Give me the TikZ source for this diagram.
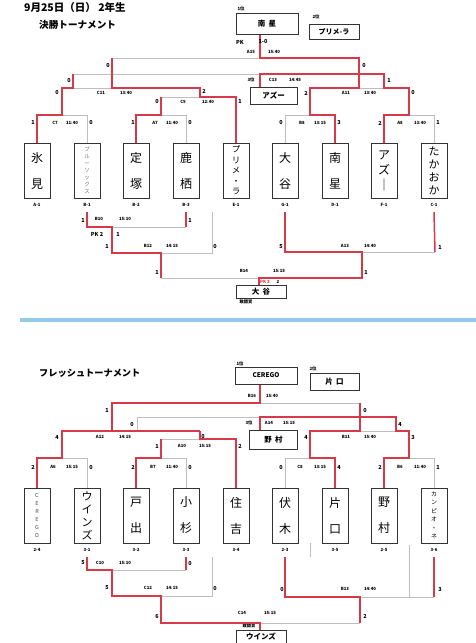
\documentclass[tikz,border=0pt]{standalone}
\usepackage{fontspec}
\setmainfont{Noto Sans CJK JP}
\usetikzlibrary{positioning}
\definecolor{winred}{RGB}{214,58,72}
\definecolor{losegray}{RGB}{190,190,190}
\definecolor{barblue}{RGB}{150,200,238}

\begin{document}
\begin{tikzpicture}[x=1pt, y=-1pt, font=\small,
    team/.style={draw=black!80, line width=1pt, fill=white, minimum width=26pt, minimum height=55pt, inner sep=0pt, align=center},
    two/.style={font=\fontsize{12}{26}\selectfont},
    rankbox/.style={draw=black!80, line width=1pt, fill=white, inner sep=0pt, font=\fontsize{7.5}{8}\selectfont\bfseries},
    title/.style={anchor=west, inner sep=0pt, font=\bfseries},
    win/.style={winred, line width=1.5pt},
    lose/.style={losegray, line width=0.8pt},
    score/.style={inner sep=0pt, font=\fontsize{5.5}{6}\selectfont\bfseries},
    info/.style={inner sep=0pt, font=\fontsize{4.3}{5}\selectfont\bfseries}]
    \useasboundingbox (0,0) rectangle (476,643);

    % ---------- 決勝トーナメント ----------
    \node[title, font=\fontsize{10.5}{11}\selectfont\bfseries] (date) at (24,8) {9月25日（日） 2年生};
    \node[title, font=\fontsize{9.6}{10}\selectfont\bfseries] (kessho) at (39,25) {決勝トーナメント};

    \node[info] (r1) at (241,9) {1位};
    \node[rankbox, minimum width=62pt, minimum height=21pt] (first) at (267,23.5) {南\ \ 星};
    \node[info] (r2) at (316,17) {2位};
    \node[rankbox, minimum width=50pt, minimum height=15pt, font=\fontsize{7}{8}\selectfont\bfseries] (second) at (334,31.5) {プリメ-ラ};
    \node[info] (r3) at (251,80) {3位};
    \node[rankbox, minimum width=47pt, minimum height=17pt] (third) at (273.5,96) {アズー};

    \node[team, two] (himi) at (37,170.5) {氷\\見};
    \node[team, font=\fontsize{5.5}{7}\selectfont, text=black!55] (blue) at (87,170.5) {ブ\\ル\\ー\\ソ\\ッ\\ク\\ス};
    \node[team, two] (jotsuka) at (136,170.5) {定\\塚};
    \node[team, two] (kasu) at (186,170.5) {鹿\\栖};
    \node[team, font=\fontsize{8.5}{10.5}\selectfont] (prim) at (236,170.5) {プ\\リ\\メ\\・\\ラ};
    \node[team, two] (otani) at (285,170.5) {大\\谷};
    \node[team, two] (nansei) at (335,170.5) {南\\星};
    \node[team, font=\fontsize{12}{15}\selectfont] (azu) at (384,170.5) {ア\\ズ\\｜};
    \node[team, font=\fontsize{11}{13}\selectfont] (takaoka) at (434,170.5) {た\\か\\お\\か};

    \node[info] (lhimi) at (37,205) {A-1};
    \node[info] (lblue) at (87,205) {B-1};
    \node[info] (ljotsuka) at (136,205) {B-2};
    \node[info] (lkasu) at (186,205) {B-3};
    \node[info] (lprim) at (236,205) {E-1};
    \node[info] (lotani) at (285,205) {G-1};
    \node[info] (lnansei) at (335,205) {D-1};
    \node[info] (lazu) at (384,205) {F-1};
    \node[info] (ltakaoka) at (434,205) {C-1};

    \coordinate (fin) at (260,58);
    \coordinate (thr) at (260,74);
    \coordinate (kfin) at (259,278);

    \draw[lose] (blue.north) |- (62,115);
    \draw[lose] (kasu.north) |- (161,115);
    \draw[lose] (161,97) -- (200,97);
    \draw[lose] (73,88) -- (112,88);
    \draw[lose] (112,58) -- (fin);
    \draw[lose] (73,74) -- (thr);
    \draw[lose] (otani.north) |- (310,115);
    \draw[lose] (takaoka.north) |- (409,115);
    \draw[lose] (359,88) -- (384,88);
    \draw[win] (himi.north) |- (62,115) -- (62,88) -- (73,88) -- (73,74);
    \draw[win] (jotsuka.north) |- (161,115) -- (161,97);
    \draw[win] (prim.north) |- (200,97) -- (200,88) -- (112,88) -- (112,58);
    \draw[win] (nansei.north) |- (310,115) -- (310,88) -- (359,88) -- (359,58) -- (fin) -- (fin |- first.south);
    \draw[win] (azu.north) |- (409,115) -- (409,88) -- (384,88) -- (384,74) -- (thr) -- (thr |- third.north);

    \node[score] (pk) at (240,42) {PK};
    \node[score] (pks) at (263,42) {1-0};
    \node[info] (m15) at (251,52) {A15};
    \node[info] (t15) at (274,52) {15:40};
    \node[score] (f1) at (108,66) {0};
    \node[score] (f2) at (364,66) {0};
    \node[info] (m13) at (273,80) {C13};
    \node[info] (t13) at (295,80) {14:45};
    \node[score] (h1) at (69,81) {0};
    \node[score] (h2) at (389,81) {1};
    \node[score] (s11a) at (57,93) {0};
    \node[info] (m11) at (101,93) {C11};
    \node[info] (t11) at (126,93) {13:40};
    \node[score] (s11b) at (204,91) {2};
    \node[score] (sa11a) at (306,93) {2};
    \node[info] (ma11) at (346,93) {A11};
    \node[info] (ta11) at (370,93) {13:40};
    \node[score] (sa11b) at (413,93) {0};
    \node[score] (s9a) at (157,102) {0};
    \node[info] (m9) at (183,102) {C9};
    \node[info] (t9) at (208,102) {12:40};
    \node[score] (s9b) at (240,102) {1};
    \node[score] (s7a) at (33,123) {1};
    \node[info] (m7) at (55,123) {C7};
    \node[info] (t7) at (72,123) {11:40};
    \node[score] (s7b) at (91,123) {0};
    \node[score] (sa7a) at (133,123) {1};
    \node[info] (ma7) at (155,123) {A7};
    \node[info] (ta7) at (172,123) {11:40};
    \node[score] (sa7b) at (190,123) {0};
    \node[score] (s8a) at (281,123) {0};
    \node[info] (m8) at (302,123) {B8};
    \node[info] (t8) at (320,123) {13:15};
    \node[score] (s8b) at (339,123) {3};
    \node[score] (sa8a) at (380,123) {2};
    \node[info] (ma8) at (400,123) {A8};
    \node[info] (ta8) at (420,123) {13:40};
    \node[score] (sa8b) at (438,123) {1};

    % consolation
    \node[rankbox, minimum width=50pt, minimum height=13pt] (kwin) at (261,291.5) {大\ \ 谷};
    \node[info] (kprize) at (246,302) {敢闘賞};

    \draw[lose] (112,227) -- (186,227);
    \draw[lose] (161,253) -- (212,253) -- (212,212);
    \draw[lose] (161,278) -- (kfin);
    \draw[lose] (362,252) -- (435,252);
    \draw[win] (blue.south |- 0,212) |- (112,227) -- (112,253) -- (161,253) -- (161,278);
    \draw[win] (kasu.south |- 0,212) -- (186,227);
    \draw[win] (otani.south |- 0,212) |- (362,252) -- (362,278) -- (kfin) -- (kfin |- kwin.north);
    \draw[win] (takaoka.south |- 0,212) -- (435,252);

    \node[score] (k10a) at (83,220) {1};
    \node[info] (mk10) at (99,219) {B10};
    \node[info] (tk10) at (125,219) {15:10};
    \node[score] (k10b) at (190,220) {1};
    \node[score] (kpk) at (97,234) {PK 2};
    \node[score] (kpkb) at (118,234) {1};
    \node[score] (k12a) at (107,246) {1};
    \node[info] (mk12) at (148,246) {B12};
    \node[info] (tk12) at (172,246) {14:15};
    \node[score] (k12b) at (215,246) {0};
    \node[score] (k13a) at (281,247) {5};
    \node[info] (mk13) at (345,246) {A13};
    \node[info] (tk13) at (370,246) {14:40};
    \node[score] (k13b) at (440,247) {1};
    \node[score] (k14a) at (157,272) {1};
    \node[info] (mk14) at (244,271) {B14};
    \node[info] (tk14) at (279,271) {15:15};
    \node[score] (k14b) at (366,272) {1};
    \node[info, text=winred] (kpk2) at (265,282) {PK 3};
    \node[info] (kpk2b) at (278,282) {2};

    \draw[barblue, line width=4pt] (20,320) -- (476,320);

    % ---------- フレッシュトーナメント ----------
    \node[title, font=\fontsize{9.2}{10}\selectfont\bfseries] (fresh) at (39,373) {フレッシュトーナメント};

    \node[info] (r1b) at (240,364) {1位};
    \node[rankbox, minimum width=62pt, minimum height=17pt, font=\fontsize{6.5}{7}\selectfont\bfseries] (firstb) at (266,375.5) {CEREGO};
    \node[info] (r2b) at (313,369) {2位};
    \node[rankbox, minimum width=49pt, minimum height=17pt] (secondb) at (334.5,381.5) {片\ \ 口};
    \node[info] (r3b) at (249,423) {3位};
    \node[rankbox, minimum width=48pt, minimum height=19pt] (thirdb) at (273.5,439.5) {野\ \ 村};

    \node[team, font=\fontsize{5.5}{8}\selectfont, text=black!70] (cerego) at (37,515.5) {C\\E\\R\\E\\G\\O};
    \node[team, font=\fontsize{11}{13}\selectfont] (winds) at (87,515.5) {ウ\\イ\\ン\\ズ};
    \node[team, two] (toide) at (136,515.5) {戸\\出};
    \node[team, two] (kosugi) at (186,515.5) {小\\杉};
    \node[team, two] (sumiyoshi) at (236,515.5) {住\\吉};
    \node[team, two] (fushiki) at (285,515.5) {伏\\木};
    \node[team, two] (kataguchi) at (335,515.5) {片\\口};
    \node[team, two] (nomura) at (384,515.5) {野\\村};
    \node[team, font=\fontsize{6}{8.5}\selectfont] (campione) at (434,515.5) {カ\\ン\\ピ\\オ\\・\\ネ};

    \node[info] (lcerego) at (37,550) {2-4};
    \node[info] (lwinds) at (87,550) {3-1};
    \node[info] (ltoide) at (136,550) {3-2};
    \node[info] (lkosugi) at (186,550) {3-3};
    \node[info] (lsumiyoshi) at (236,550) {3-4};
    \node[info] (lfushiki) at (285,550) {2-3};
    \node[info] (lkataguchi) at (335,550) {3-5};
    \node[info] (lnomura) at (384,550) {2-5};
    \node[info] (lcampione) at (434,550) {3-6};

    \coordinate (finb) at (260,403);
    \coordinate (thrb) at (260,417);
    \coordinate (kfinb) at (260,623);

    \draw[lose] (winds.north) |- (62,458);
    \draw[lose] (kosugi.north) |- (161,458);
    \draw[lose] (161,439) -- (200,439);
    \draw[lose] (finb) -- (360,403);
    \draw[lose] (137,431) -- (137,417) -- (thrb);
    \draw[lose] (fushiki.north) |- (310,458);
    \draw[lose] (campione.north) |- (409,458);
    \draw[lose] (360,431) -- (396,431);
    \draw[win] (cerego.north) |- (62,458) -- (62,431) -- (200,431);
    \draw[win] (toide.north) |- (161,458) -- (161,439);
    \draw[win] (sumiyoshi.north) |- (200,439) -- (200,431);
    \draw[win] (112,431) -- (112,403) -- (finb) -- (finb |- firstb.south);
    \draw[win] (kataguchi.north) |- (310,458) -- (310,431) -- (360,431) -- (360,403);
    \draw[win] (nomura.north) |- (409,458) -- (409,431) -- (396,431) -- (396,417) -- (thrb) -- (thrb |- thirdb.north);

    \node[info] (m16) at (252,396) {B16};
    \node[info] (t16) at (272,396) {15:40};
    \node[score] (fb1) at (107,410) {1};
    \node[score] (fb2) at (365,410) {0};
    \node[info] (m14) at (269,423) {A14};
    \node[info] (t14) at (289,423) {15:15};
    \node[score] (hb1) at (132,424) {0};
    \node[score] (hb2) at (400,424) {4};
    \node[score] (s12a) at (57,437) {4};
    \node[info] (m12) at (100,437) {A12};
    \node[info] (t12) at (125,437) {14:15};
    \node[score] (s12b) at (203,436) {0};
    \node[score] (sb11a) at (306,437) {4};
    \node[info] (mb11) at (346,437) {B11};
    \node[info] (tb11) at (370,437) {15:40};
    \node[score] (sb11b) at (413,437) {3};
    \node[score] (s10a) at (157,446) {1};
    \node[info] (m10) at (182,446) {A10};
    \node[info] (t10) at (205,446) {15:15};
    \node[score] (s10b) at (240,446) {2};
    \node[score] (s6a) at (33,467) {2};
    \node[info] (m6) at (53,467) {A6};
    \node[info] (t6) at (72,467) {15:15};
    \node[score] (s6b) at (91,467) {0};
    \node[score] (sb7a) at (133,467) {2};
    \node[info] (mb7) at (153,467) {B7};
    \node[info] (tb7) at (172,467) {11:40};
    \node[score] (sb7b) at (190,467) {0};
    \node[score] (sc8a) at (281,467) {0};
    \node[info] (mc8) at (300,467) {C8};
    \node[info] (tc8) at (320,467) {13:15};
    \node[score] (sc8b) at (339,467) {4};
    \node[score] (sb6a) at (380,467) {2};
    \node[info] (mb6) at (400,467) {B6};
    \node[info] (tb6) at (420,467) {11:40};
    \node[score] (sb6b) at (438,467) {1};

    % consolation
    \node[rankbox, minimum width=50pt, minimum height=13pt] (kwinb) at (261,637) {ウインズ};
    \node[info] (kprizeb) at (249,626) {敢闘賞};

    \draw[lose] (112,570) -- (186,570);
    \draw[lose] (161,596) -- (212,596) -- (212,557);
    \draw[lose] (kfinb) -- (360,623);
    \draw[lose] (360,597) -- (434,597);
    \draw[lose] (409,545) -- (409,597);
    \draw[lose] (310,543) -- (310,557);
    \draw[win] (winds.south |- 0,557) |- (112,570) -- (112,596) -- (161,596) -- (161,623) -- (kfinb) -- (kfinb |- kwinb.north);
    \draw[win] (kosugi.south |- 0,557) -- (186,570);
    \draw[win] (fushiki.south |- 0,557) |- (360,597) -- (360,623);
    \draw[win] (campione.south |- 0,557) -- (434,597);

    \node[score] (kb10a) at (83,563) {5};
    \node[info] (mkb10) at (100,563) {C10};
    \node[info] (tkb10) at (125,563) {15:10};
    \node[score] (kb10b) at (190,563) {0};
    \node[score] (kb12a) at (107,588) {5};
    \node[info] (mkb12) at (148,588) {C12};
    \node[info] (tkb12) at (172,588) {14:15};
    \node[score] (kb12b) at (215,588) {0};
    \node[score] (kb13a) at (282,589) {0};
    \node[info] (mkb13) at (345,589) {B13};
    \node[info] (tkb13) at (370,589) {14:40};
    \node[score] (kb13b) at (440,589) {3};
    \node[score] (kb14a) at (157,616) {6};
    \node[info] (mkb14) at (242,613) {C14};
    \node[info] (tkb14) at (270,613) {15:15};
    \node[score] (kb14b) at (365,616) {2};
  \end{tikzpicture}
\end{document}
